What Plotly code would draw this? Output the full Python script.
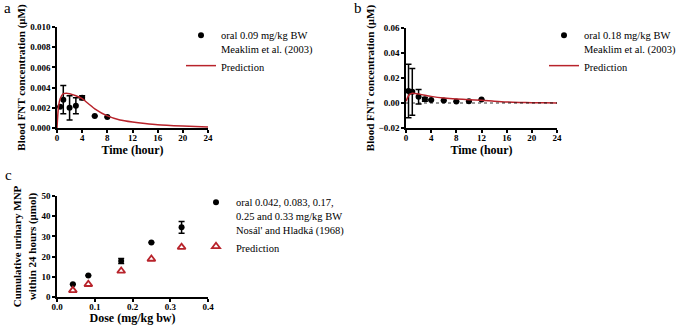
import plotly.graph_objects as go

# Panel a data
a_time = [0.5, 1, 2, 3, 4, 6, 8]
a_conc = [0.0021, 0.0028, 0.0020, 0.0022, 0.0030, 0.0012, 0.0011]
a_err = [0, 0.0014, 0.0012, 0.0008, 0.0002, 0, 0]
a_pred_t = [0, 0.25, 0.5, 1, 1.5, 2, 3, 4, 5, 6, 8, 10, 12, 14, 16, 20, 24]
a_pred = [0, 0.0022, 0.0029, 0.0034, 0.00345, 0.0034, 0.0032, 0.0029, 0.0024, 0.0019,
          0.0012, 0.0008, 0.0006, 0.00045, 0.00033, 0.0002, 0.0001]

# Panel b data
b_time = [0.4, 1, 2, 3, 4, 6, 8, 10, 12]
b_conc = [0.0096, 0.0090, 0.0050, 0.0030, 0.0024, 0.0020, 0.0013, 0.0015, 0.0028]
b_err = [0.0214, 0.0187, 0.0058, 0.0015, 0, 0, 0, 0, 0]
b_pred_t = [0, 0.5, 1, 1.5, 2, 3, 4, 6, 8, 10, 12, 14, 16, 18, 20, 22, 24]
b_pred = [0.0015, 0.0065, 0.0078, 0.0076, 0.0072, 0.0062, 0.0053, 0.0040, 0.0032, 0.0027,
          0.0022, 0.0014, 0.0008, 0.0005, 0.0003, 0.0002, 0.0001]

# Panel c data
c_dose = [0.042, 0.083, 0.17, 0.25, 0.33]
c_obs = [6.3, 10.7, 17.8, 27.0, 34.5]
c_err = [0, 0, 1.2, 0, 2.9]
c_pred = [3.3, 6.3, 12.9, 18.8, 24.7]

RED = "#B8232B"
BLACK = "black"
FAM = "Liberation Serif"
tfont = dict(family=FAM, size=9, color="black", weight="bold")
titlefont = dict(family=FAM, size=12, color="black", weight="bold")
ytitlefont = dict(family=FAM, size=11, color="black", weight="bold")
legfont = dict(family=FAM, size=10.5, color="black")

fig = go.Figure()

fig.add_trace(go.Scatter(x=a_time, y=a_conc, mode="markers",
                         marker=dict(color=BLACK, size=6),
                         error_y=dict(type="data", array=a_err, color=BLACK, thickness=1.5, width=3),
                         name="oral 0.09 mg/kg BW<br>Meaklim et al. (2003)",
                         xaxis="x", yaxis="y", legend="legend"))
fig.add_trace(go.Scatter(x=a_pred_t, y=a_pred, mode="lines", line=dict(color=RED, width=1.5, shape="spline", smoothing=0.6),
                         name="Prediction", xaxis="x", yaxis="y", legend="legend"))

fig.add_trace(go.Scatter(x=b_time, y=b_conc, mode="markers",
                         marker=dict(color=BLACK, size=6),
                         error_y=dict(type="data", array=b_err, color=BLACK, thickness=1.5, width=3),
                         name="oral 0.18 mg/kg BW<br>Meaklim et al. (2003)",
                         xaxis="x2", yaxis="y2", legend="legend2"))
fig.add_trace(go.Scatter(x=b_pred_t, y=b_pred, mode="lines", line=dict(color=RED, width=1.5, shape="spline", smoothing=0.6),
                         name="Prediction", xaxis="x2", yaxis="y2", legend="legend2"))

fig.add_trace(go.Scatter(x=c_dose, y=c_obs, mode="markers",
                         marker=dict(color=BLACK, size=6),
                         error_y=dict(type="data", array=c_err, color=BLACK, thickness=1.5, width=3),
                         name="oral 0.042, 0.083, 0.17,<br>0.25 and 0.33 mg/kg BW<br>Nosál' and Hladká (1968)",
                         xaxis="x3", yaxis="y3", legend="legend3"))
fig.add_trace(go.Scatter(x=c_dose, y=c_pred, mode="markers",
                         marker=dict(color="white", size=7, symbol="triangle-up",
                                     line=dict(color=RED, width=1.8)),
                         name="Prediction", xaxis="x3", yaxis="y3", legend="legend3"))

W, H = 680, 325
def dx(a, b): return [a / W, b / W]
def dy(top, bot): return [1 - bot / H, 1 - top / H]

axcommon = dict(showgrid=False, zeroline=False, showline=True, linecolor="black", linewidth=1.5,
                ticks="outside", ticklen=3, tickwidth=1.5, tickcolor="black",
                tickfont=tfont, automargin=False)
xcommon = dict(title_font=titlefont, ticklabelstandoff=-3, **axcommon)
ycommon = dict(title_font=ytitlefont, **axcommon)

legcommon = dict(xanchor="left", yanchor="top", valign="top", font=legfont,
                 bgcolor="rgba(0,0,0,0)", itemwidth=30, tracegroupgap=0)

fig.update_layout(
    width=W, height=H, margin=dict(l=0, r=0, t=0, b=0, autoexpand=False),
    paper_bgcolor="white", plot_bgcolor="white",
    xaxis=dict(domain=dx(57, 208), anchor="y", range=[0, 24], tickvals=[0, 4, 8, 12, 16, 20, 24],
               title=dict(text="Time (hour)", standoff=0), **xcommon),
    yaxis=dict(domain=dy(27, 128), anchor="x", range=[0, 0.010],
               tickvals=[0, 0.002, 0.004, 0.006, 0.008, 0.010], tickformat=".3f",
               title=dict(text="Blood FNT concentration (μM)", standoff=2), **ycommon),
    xaxis2=dict(domain=dx(406, 557), anchor="y2", range=[0, 24], tickvals=[0, 4, 8, 12, 16, 20, 24],
                title=dict(text="Time (hour)", standoff=0), **xcommon),
    yaxis2=dict(domain=dy(28, 128), anchor="x2", range=[-0.02, 0.06],
                tickvals=[-0.02, 0, 0.02, 0.04, 0.06], tickformat=".2f",
                title=dict(text="Blood FNT concentration (μM)", standoff=2), **ycommon),
    xaxis3=dict(domain=dx(57, 208), anchor="y3", range=[0, 0.4], tickvals=[0, 0.1, 0.2, 0.3, 0.4],
                tickformat=".1f",
                title=dict(text="Dose (mg/kg bw)", standoff=0), **xcommon),
    yaxis3=dict(domain=dy(196, 297), anchor="x3", range=[0, 50], tickvals=[0, 10, 20, 30, 40, 50],
                title=dict(text="Cumulative urinary MNP<br>within 24 hours (μmol)", standoff=3), **ycommon),
    legend=dict(x=181 / W, y=1 - 22 / H, **legcommon),
    legend2=dict(x=544 / W, y=1 - 22 / H, **legcommon),
    legend3=dict(x=196 / W, y=1 - 189 / H, **legcommon),
    showlegend=True,
)

fig.add_hline(y=0, line=dict(color="black", width=0.8, dash="dot"), xref="x2", yref="y2")

for txt, x, y in [("a", 2, 8), ("b", 352, 8), ("c", 3, 175)]:
    fig.add_annotation(text=txt, x=x / W, y=1 - y / H, xref="paper", yref="paper",
                       showarrow=False, xanchor="left", yanchor="middle",
                       font=dict(family=FAM, size=15, color="black"))

fig.write_html("out.html", config={"displayModeBar": False},
               post_script="document.body.style.margin='0';document.body.style.overflow='hidden';")
